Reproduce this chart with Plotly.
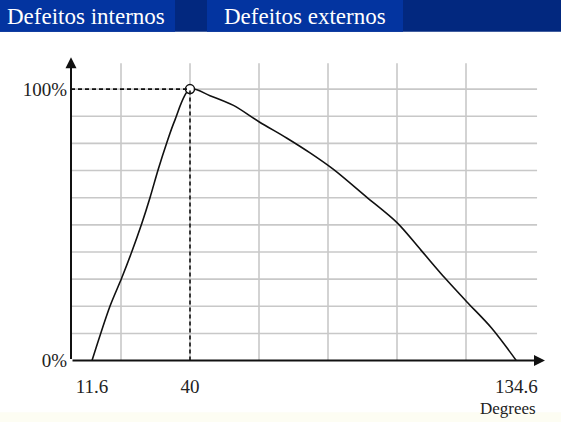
import plotly.graph_objects as go

# ---- data ----
degrees = [11.6, 16.8, 20.2, 23.1, 26.0, 28.4, 30.8, 33.2, 35.6, 40.0,
           45.8, 52.6, 60.1, 68.0, 74.8, 81.5, 91.2, 100.0, 107.0, 113.9,
           120.2, 127.4, 134.6]
percent = [0, 20, 30.4, 40, 50.4, 60, 70.5, 80, 88.5, 100,
           97.6, 94, 87.9, 82, 76.5, 70.5, 60.2, 50.8, 40.6, 30.4,
           21.7, 12, 0]
peak_x = 40.0
peak_y = 100.0
x_tick_vals = [11.6, 40, 134.6]
x_tick_text = ["11.6", "40", "134.6"]
y_tick_vals = [0, 100]
y_tick_text = ["0%", "100%"]
x_grid = [20, 40, 60, 80, 100, 120]
y_grid = [10, 20, 30, 40, 50, 60, 70, 80, 90, 100]
tabs = ["Defeitos internos", "Defeitos externos"]
x_label = "Degrees"

W, H = 561, 433
X_RANGE = [5.507, 143.19]
Y_RANGE = [0, 112.0]
GRID_X_END = 140.6
GRID_Y_END = 109.5

serif = "Liberation Serif, Times New Roman, serif"

fig = go.Figure()

# curve
fig.add_trace(go.Scatter(x=degrees, y=percent, mode="lines",
                         line=dict(color="#111111", width=1.6, shape="spline", smoothing=0.9),
                         hoverinfo="skip", showlegend=False, cliponaxis=False))
# peak marker
fig.add_trace(go.Scatter(x=[peak_x], y=[peak_y], mode="markers",
                         marker=dict(symbol="circle", size=9, color="white",
                                     line=dict(color="#111111", width=1.5)),
                         hoverinfo="skip", showlegend=False, cliponaxis=False))

shapes = []
# grid
for gx in x_grid:
    shapes.append(dict(type="line", xref="x", yref="y", x0=gx, x1=gx, y0=0, y1=GRID_Y_END,
                       line=dict(color="#c8c8c8", width=1.6), layer="below"))
for gy in y_grid:
    shapes.append(dict(type="line", xref="x", yref="y", x0=X_RANGE[0], x1=GRID_X_END, y0=gy, y1=gy,
                       line=dict(color="#c8c8c8", width=1.6), layer="below"))
# dashed guides
shapes.append(dict(type="line", xref="x", yref="y", x0=X_RANGE[0], x1=peak_x, y0=peak_y, y1=peak_y,
                   line=dict(color="#111111", width=1.6, dash="4px,3px")))
shapes.append(dict(type="line", xref="x", yref="y", x0=peak_x, x1=peak_x, y0=0, y1=peak_y,
                   line=dict(color="#111111", width=1.6, dash="4px,3px")))
# header bar
hb = 1 - 32.5 / H
shapes.append(dict(type="rect", xref="paper", yref="paper", x0=0, x1=1, y0=hb, y1=1,
                   fillcolor="#02287f", line=dict(width=0), layer="below"))
shapes.append(dict(type="rect", xref="paper", yref="paper", x0=0, x1=175 / W, y0=hb, y1=1,
                   fillcolor="#0334a0", line=dict(width=0), layer="below"))
shapes.append(dict(type="rect", xref="paper", yref="paper", x0=207 / W, x1=403 / W, y0=hb, y1=1,
                   fillcolor="#0334a0", line=dict(width=0), layer="below"))
# pale bottom strip
shapes.append(dict(type="rect", xref="paper", yref="paper", x0=0, x1=1, y0=0, y1=10 / H,
                   fillcolor="#fdfdf3", line=dict(width=0), layer="below"))

annotations = []
# axis arrows
annotations.append(dict(x=X_RANGE[1] - 0.3, y=0, ax=X_RANGE[0], ay=0, xref="x", yref="y",
                        axref="x", ayref="y", text="", showarrow=True, arrowhead=2,
                        arrowsize=1.1, arrowwidth=2, arrowcolor="#111111"))
annotations.append(dict(x=X_RANGE[0], y=Y_RANGE[1] - 0.3, ax=X_RANGE[0], ay=0, xref="x", yref="y",
                        axref="x", ayref="y", text="", showarrow=True, arrowhead=2,
                        arrowsize=1.1, arrowwidth=2, arrowcolor="#111111"))
# header tabs text
annotations.append(dict(x=5 / W, y=1 - 17 / H, xref="paper", yref="paper", xanchor="left",
                        yanchor="middle", text=tabs[0], showarrow=False,
                        font=dict(family=serif, size=23, color="white")))
annotations.append(dict(x=222 / W, y=1 - 17 / H, xref="paper", yref="paper", xanchor="left",
                        yanchor="middle", text=tabs[1], showarrow=False,
                        font=dict(family=serif, size=23, color="white")))
# x label
annotations.append(dict(x=538 / W, y=1 - 419 / H, xref="paper", yref="paper", xanchor="right",
                        yanchor="middle", text=x_label, showarrow=False,
                        font=dict(family=serif, size=17, color="#222222")))

fig.update_layout(
    width=W, height=H, margin=dict(l=0, r=0, t=0, b=0),
    paper_bgcolor="white", plot_bgcolor="rgba(0,0,0,0)",
    shapes=shapes, annotations=annotations, showlegend=False,
    xaxis=dict(domain=[71 / W, 546 / W], range=X_RANGE, showgrid=False, zeroline=False,
               showline=False, tickmode="array", tickvals=x_tick_vals, ticktext=x_tick_text,
               ticks="", ticklabelstandoff=12,
               tickfont=dict(family=serif, size=19, color="#222222"), fixedrange=True),
    yaxis=dict(domain=[1 - 370 / H, 1 - 58 / H], range=Y_RANGE, showgrid=False, zeroline=False,
               showline=False, tickmode="array", tickvals=y_tick_vals, ticktext=y_tick_text,
               ticks="", ticklabelstandoff=3,
               tickfont=dict(family=serif, size=19, color="#222222"), fixedrange=True),
)

fig.write_html("out.html", config={"displayModeBar": False},
               post_script="document.body.style.margin='0';document.body.style.padding='0';"
                           "document.documentElement.style.overflow='hidden';")
